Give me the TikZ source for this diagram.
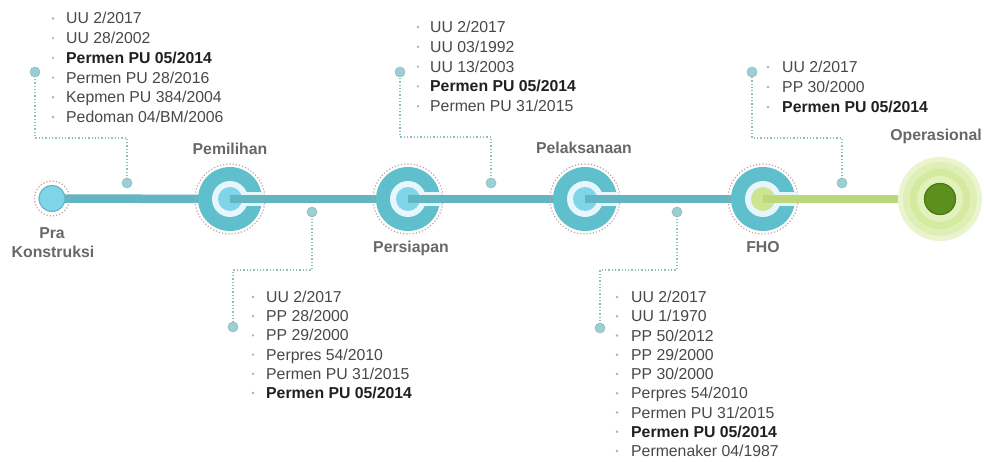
\documentclass[tikz,border=0pt]{standalone}
\usepackage{fontspec}
\setmainfont{Liberation Sans}
\usetikzlibrary{calc}
\definecolor{tann}{HTML}{60BFCD}
\definecolor{tline}{HTML}{62B6C2}
\definecolor{tdisc}{HTML}{80D4E8}
\definecolor{thole}{HTML}{E6F6FA}
\definecolor{gline}{HTML}{B9D97C}
\definecolor{gdisc}{HTML}{CDE590}
\definecolor{gpale}{HTML}{EAF5CF}
\definecolor{gpale2}{HTML}{DFEFB5}
\definecolor{gmid}{HTML}{D4EA9F}
\definecolor{gin}{HTML}{E3F2BD}
\definecolor{gdark}{HTML}{5B8F1E}
\definecolor{gdarke}{HTML}{4A7A16}
\definecolor{conn}{HTML}{8DBCC1}
\definecolor{markc}{HTML}{9CCFD4}
\definecolor{txt}{HTML}{484848}
\definecolor{txtb}{HTML}{202020}
\definecolor{labc}{HTML}{686868}
\definecolor{bul}{HTML}{B0B0B0}
\definecolor{ringc}{HTML}{C4A0A0}
\newcommand\bd[1]{\textbf{\textcolor{txtb}{#1}}}
\newcommand\stagec[2]{%
  \draw[ringc, dotted, line width=1.2pt] (#1) circle (35pt);
  \fill[tann] (#1) circle (32pt);
  \fill[thole] (#1) circle (18pt);
  \fill[thole] ($(#1)+(0,-7)$) rectangle ($(#1)+(34,7)$);
  \fill[#2] (#1) circle (12pt);
}
\newcommand\lawlist[6]{%
  \foreach \t [count=\i] in {#6} {
    \pgfmathsetmacro\yy{#4+(\i-1)*#5}
    \fill[bul] (#2,\yy-5.5) circle (1.3pt);
    \node[item] (#1-\i) at (#3,\yy) {\t};
  }}
\begin{document}
\begin{tikzpicture}[x=1pt,y=-1pt,
  tl/.style={line width=8.5pt, draw=tline},
  gl/.style={line width=8.5pt, draw=gline},
  conn/.style={draw=conn, dotted, line width=1.3pt},
  markr/.style={circle, fill=markc, draw=conn, line width=0.6pt, minimum size=10pt, inner sep=0pt},
  item/.style={font=\fontsize{15.8}{18}\selectfont, text=txt, inner sep=0pt, anchor=base west},
  lab/.style={font=\fontsize{15.8}{18}\selectfont\bfseries, text=labc, inner sep=0pt, anchor=base}]
\useasboundingbox (0,0) rectangle (984,462);
\fill[white] (0,0) rectangle (984,462);
% stage centres
\coordinate (pra) at (52,198.5);
\coordinate (pem) at (230,199);
\coordinate (per) at (408,199);
\coordinate (pel) at (585,199);
\coordinate (fho) at (763,199);
\coordinate (ope) at (940,199);
% timeline
\draw[tl] (pra) -- (pem);
\draw[ringc, dotted, line width=1.2pt] (pra) circle (17.5pt);
\fill[tdisc] (pra) circle (13.5pt);
\draw[tline, line width=1pt] (pra) circle (13pt);
\stagec{pem}{tdisc}
\draw[tl] (pem) -- (per);
\stagec{per}{tdisc}
\draw[tl] (per) -- (pel);
\stagec{pel}{tdisc}
\draw[tl] (pel) -- (fho);
\stagec{fho}{gdisc}
\draw[gl] (fho) -- (ope);
\fill[gpale] (ope) circle (42pt);
\fill[gpale2] (ope) circle (37pt);
\fill[gmid] (ope) circle (30pt);
\fill[gin] (ope) circle (23pt);
\fill[gdark] (ope) circle (16pt);
\draw[gdarke, line width=1.2pt] (ope) circle (15.5pt);
% stage labels
\node[lab] (lpra1) at (52,239) {Pra};
\node[lab] (lpra2) at (53,257) {Konstruksi};
\node[lab] (lpem) at (230,155) {Pemilihan};
\node[lab] (lper) at (411,252) {Persiapan};
\node[lab] (lpel) at (584,154) {Pelaksanaan};
\node[lab] (lfho) at (763,252) {FHO};
\node[lab] (lope) at (936,141) {Operasional};
% law lists
\lawlist{ga}{53}{66}{24}{19.7}{UU 2/2017, UU 28/2002, \bd{Permen PU 05/2014}, Permen PU 28/2016, Kepmen PU 384/2004, Pedoman 04/BM/2006}
\lawlist{gb}{253}{266}{302.5}{19.2}{UU 2/2017, PP 28/2000, PP 29/2000, Perpres 54/2010, Permen PU 31/2015, \bd{Permen PU 05/2014}}
\lawlist{gc}{418}{430}{32.5}{19.8}{UU 2/2017, UU 03/1992, UU 13/2003, \bd{Permen PU 05/2014}, Permen PU 31/2015}
\lawlist{gd}{617}{631}{302.5}{19.25}{UU 2/2017, UU 1/1970, PP 50/2012, PP 29/2000, PP 30/2000, Perpres 54/2010, Permen PU 31/2015, \bd{Permen PU 05/2014}, Permenaker 04/1987}
\lawlist{ge}{768}{782}{72.5}{20}{UU 2/2017, PP 30/2000, \bd{Permen PU 05/2014}}
% connector markers
\coordinate (ma1) at (127,183); \coordinate (mb1) at (35,72);
\coordinate (ma2) at (312,212); \coordinate (mb2) at (233,327);
\coordinate (ma3) at (491,183); \coordinate (mb3) at (400,72);
\coordinate (ma4) at (677,212); \coordinate (mb4) at (600,328);
\coordinate (ma5) at (842,183); \coordinate (mb5) at (752,72);
\draw[conn] (ma1) -- (ma1 |- 0,138) -| (mb1);
\draw[conn] (ma2) -- (ma2 |- 0,270) -| (mb2);
\draw[conn] (ma3) -- (ma3 |- 0,137) -| (mb3);
\draw[conn] (ma4) -- (ma4 |- 0,270) -| (mb4);
\draw[conn] (ma5) -- (ma5 |- 0,138) -| (mb5);
\foreach \m in {ma1,mb1,ma2,mb2,ma3,mb3,ma4,mb4,ma5,mb5}
  \node[markr] (n\m) at (\m) {};
\end{tikzpicture}
\end{document}
